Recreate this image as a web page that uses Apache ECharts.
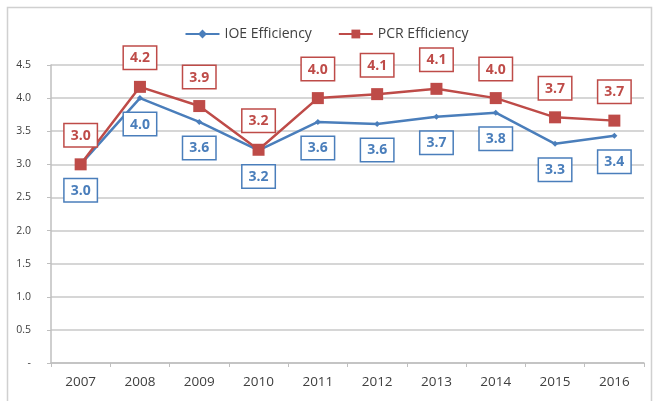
<!DOCTYPE html>
<html>
<head>
<meta charset="utf-8">
<script src="https://cdn.jsdelivr.net/npm/echarts@6/dist/echarts.min.js"></script>
<style>
  html, body { margin: 0; padding: 0; background: #fff; }
  #chart { width: 653px; height: 401px; }
</style>
</head>
<body>
<div id="chart"></div>
<script>
// Yearly efficiency scores
const years = ['2007', '2008', '2009', '2010', '2011', '2012', '2013', '2014', '2015', '2016'];
const ioeEfficiency = [3.0, 4.0, 3.64, 3.21, 3.64, 3.61, 3.72, 3.78, 3.31, 3.43];
const pcrEfficiency = [3.0, 4.17, 3.88, 3.22, 4.0, 4.06, 4.14, 4.0, 3.71, 3.66];
const yTickLabels = ['-', '0.5', '1.0', '1.5', '2.0', '2.5', '3.0', '3.5', '4.0', '4.5'];

const BLUE = '#4a7ebb';
const RED = '#be4b48';
const FONT = '"Open Sans", "Noto Sans", sans-serif';

function boxLabel(color, pos) {
  return {
    show: true,
    position: pos,
    distance: 12,
    formatter: p => p.value.toFixed(1),
    color: color,
    fontFamily: FONT,
    fontWeight: 'bold',
    fontSize: 14,
    lineHeight: 17,
    backgroundColor: '#fff',
    borderColor: color,
    borderWidth: 1.5,
    padding: [3, 6, 2, 6]
  };
}

const chart = echarts.init(document.getElementById('chart'), null, { renderer: 'canvas' });
chart.setOption({
  animation: false,
  backgroundColor: '#fff',
  graphic: [{
    type: 'rect',
    shape: { x: 7.5, y: 7.5, width: 644, height: 400 },
    style: { fill: 'none', stroke: '#d0d0d0', lineWidth: 1.5 },
    silent: true,
    z: -1
  }],
  legend: {
    top: 22,
    left: 'center',
    itemGap: 26,
    itemWidth: 34,
    itemHeight: 11,
    textStyle: { color: '#404040', fontFamily: FONT, fontSize: 14 },
    data: ['IOE Efficiency', 'PCR Efficiency']
  },
  grid: { left: 51, right: 9, top: 65, bottom: 38 },
  xAxis: {
    type: 'category',
    data: years,
    boundaryGap: true,
    axisLine: { lineStyle: { color: '#bfbfbf', width: 1.5 } },
    axisTick: { show: true, length: 4, lineStyle: { color: '#bfbfbf' } },
    axisLabel: { color: '#404040', fontFamily: FONT, fontSize: 13.5, margin: 12 }
  },
  yAxis: {
    type: 'value',
    min: 0,
    max: 4.5,
    interval: 0.5,
    axisLine: { show: true, lineStyle: { color: '#bfbfbf', width: 1.5 } },
    axisTick: { show: true, length: 4, lineStyle: { color: '#bfbfbf' } },
    splitLine: { lineStyle: { color: '#c8c8c8', width: 1.5 } },
    axisLabel: {
      color: '#404040',
      fontFamily: FONT,
      fontSize: 10.5,
      margin: 20,
      formatter: (v) => yTickLabels[Math.round(v / 0.5)]
    }
  },
  series: [
    {
      name: 'IOE Efficiency',
      type: 'line',
      data: ioeEfficiency,
      symbol: 'diamond',
      symbolSize: 6,
      lineStyle: { color: BLUE, width: 2.5 },
      itemStyle: { color: BLUE },
      label: boxLabel(BLUE, 'bottom'),
      z: 2
    },
    {
      name: 'PCR Efficiency',
      type: 'line',
      data: pcrEfficiency,
      symbol: 'rect',
      symbolSize: 12,
      lineStyle: { color: RED, width: 2.5 },
      itemStyle: { color: RED },
      label: boxLabel(RED, 'top'),
      z: 3
    }
  ]
});
</script>
</body>
</html>
